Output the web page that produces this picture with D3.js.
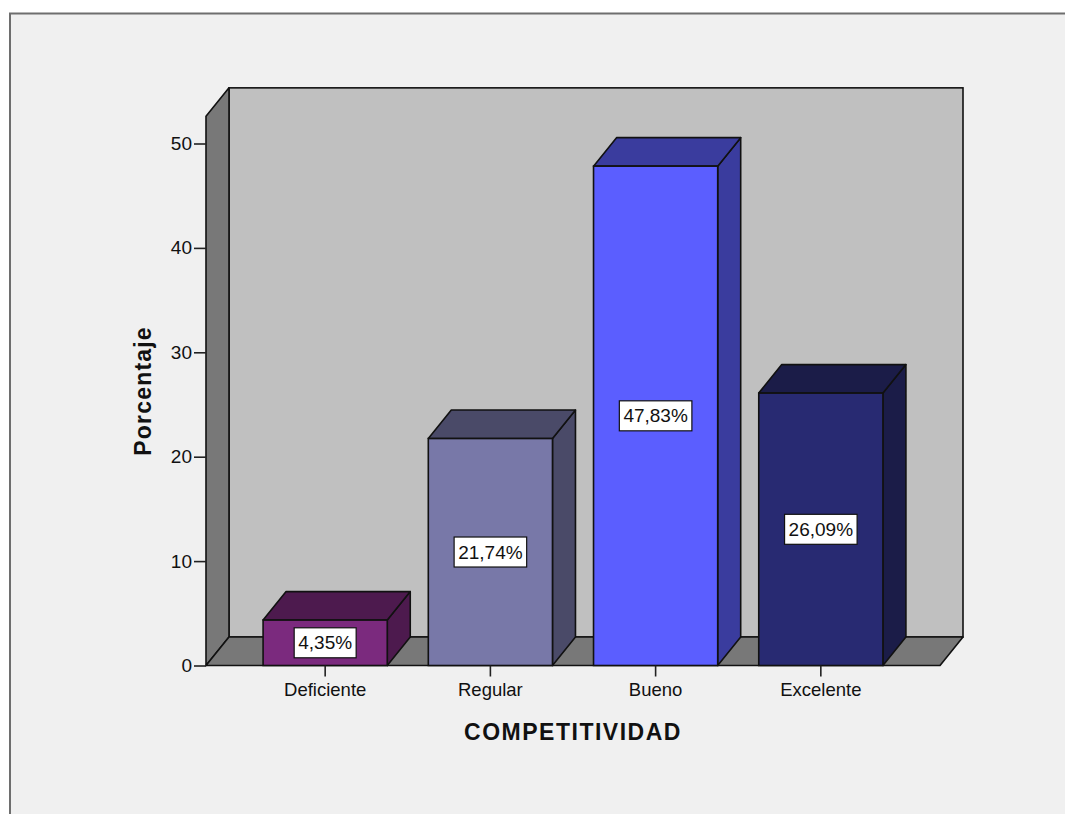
<!DOCTYPE html>
<html>
<head>
<meta charset="utf-8">
<script src="https://cdn.jsdelivr.net/npm/d3@7"></script>
<style>
  html, body { margin: 0; padding: 0; background: #ffffff; }
  svg { display: block; }
  text { font-family: "Liberation Sans", Arial, sans-serif; fill: #111; }
</style>
</head>
<body>
<svg id="chart" width="1065" height="814"></svg>
<script>
// Categories, values and styling of the bars
const categories = ["Deficiente", "Regular", "Bueno", "Excelente"];
const values = [4.35, 21.74, 47.83, 26.09];
const valueLabels = ["4,35%", "21,74%", "47,83%", "26,09%"];
const yTicks = [0, 10, 20, 30, 40, 50];
const frontColors = ["#7b2a7e", "#7878a8", "#5b5eff", "#282a72"];
const sideColors = ["#4d1a4e", "#4a4a68", "#3a3c9e", "#1b1c48"];
const xTitle = "COMPETITIVIDAD";
const yTitle = "Porcentaje";

const svg = d3.select("#chart");

// Outer frame
svg.append("rect")
  .attr("x", 10).attr("y", 13.5)
  .attr("width", 1080).attr("height", 900)
  .attr("fill", "#f0f0f0")
  .attr("stroke", "#6e6e6e")
  .attr("stroke-width", 2);

// Front plane geometry and 3D depth offset
const left = 206, right = 940;
const depthX = 23, depthY = 28.5;
const yMax = 52.6;

const y = d3.scaleLinear().domain([0, 50]).range([665.5, 143.5]);
const x = d3.scaleBand()
  .domain(categories)
  .range([left, right])
  .paddingInner(0.2485)
  .paddingOuter(0.3455);

const y0 = y(0), yTop = y(yMax);
const line = d3.line();

const box = svg.append("g");
// back wall
box.append("rect")
  .attr("x", left + depthX).attr("y", yTop - depthY)
  .attr("width", right - left).attr("height", y0 - yTop)
  .attr("fill", "#c0c0c0").attr("stroke", "#111").attr("stroke-width", 1.6);
// left wall
box.append("path")
  .attr("d", line([[left, yTop], [left + depthX, yTop - depthY], [left + depthX, y0 - depthY], [left, y0]]) + "Z")
  .attr("fill", "#787878").attr("stroke", "#111").attr("stroke-width", 1.6).attr("stroke-linejoin", "round");
// floor
box.append("path")
  .attr("d", line([[left, y0], [left + depthX, y0 - depthY], [right + depthX, y0 - depthY], [right, y0]]) + "Z")
  .attr("fill", "#787878").attr("stroke", "#111").attr("stroke-width", 1.6).attr("stroke-linejoin", "round");

// Bars
const bars = svg.append("g").selectAll("g").data(categories).join("g");
bars.each(function (c, i) {
  const g = d3.select(this);
  const x0 = x(c), x1 = x(c) + x.bandwidth();
  const yv = y(values[i]);
  // side face
  g.append("path")
    .attr("d", line([[x1, yv], [x1 + depthX, yv - depthY], [x1 + depthX, y0 - depthY], [x1, y0]]) + "Z")
    .attr("fill", sideColors[i]).attr("stroke", "#111").attr("stroke-width", 1.6).attr("stroke-linejoin", "round");
  // top face
  g.append("path")
    .attr("d", line([[x0, yv], [x0 + depthX, yv - depthY], [x1 + depthX, yv - depthY], [x1, yv]]) + "Z")
    .attr("fill", sideColors[i]).attr("stroke", "#111").attr("stroke-width", 1.6).attr("stroke-linejoin", "round");
  // front face
  g.append("rect")
    .attr("x", x0).attr("y", yv)
    .attr("width", x.bandwidth()).attr("height", y0 - yv)
    .attr("fill", frontColors[i]).attr("stroke", "#111").attr("stroke-width", 1.6);

  // value label in a white box
  const cx = (x0 + x1) / 2, cy = (yv + y0) / 2;
  const t = g.append("text")
    .attr("x", cx).attr("y", cy)
    .attr("text-anchor", "middle")
    .attr("dominant-baseline", "central")
    .style("font-size", "19px")
    .text(valueLabels[i]);
  const bb = t.node().getBBox();
  g.insert("rect", "text")
    .attr("x", cx - bb.width / 2 - 4).attr("y", cy - 15)
    .attr("width", bb.width + 8).attr("height", 30)
    .attr("fill", "#ffffff").attr("stroke", "#111").attr("stroke-width", 1.2);
});

// Y axis
const yAxis = d3.axisLeft(y).tickValues(yTicks).tickSize(12).tickPadding(2);
const ya = svg.append("g").attr("transform", `translate(${left},0)`).call(yAxis);
ya.select(".domain").remove();
ya.selectAll(".tick line").attr("stroke", "#222").attr("stroke-width", 1.6);
ya.selectAll(".tick text").style("font-size", "19px").attr("fill", "#222")
  .style("font-family", "'Liberation Sans', Arial, sans-serif");

// X axis
const xAxis = d3.axisBottom(x).tickSize(11).tickPadding(6);
const xa = svg.append("g").attr("transform", `translate(0,${y0})`).call(xAxis);
xa.select(".domain").remove();
xa.selectAll(".tick line").attr("stroke", "#222").attr("stroke-width", 1.6);
xa.selectAll(".tick text").style("font-size", "18.5px").attr("fill", "#222")
  .style("font-family", "'Liberation Sans', Arial, sans-serif");

// Axis titles
svg.append("text")
  .attr("x", 573).attr("y", 740)
  .attr("text-anchor", "middle")
  .style("font-size", "23px").style("font-weight", "bold").style("letter-spacing", "1.5px")
  .text(xTitle);

svg.append("text")
  .attr("transform", "translate(151,391) rotate(-90)")
  .attr("text-anchor", "middle")
  .style("font-size", "23px").style("font-weight", "bold").style("letter-spacing", "1.2px")
  .text(yTitle);
</script>
</body>
</html>
